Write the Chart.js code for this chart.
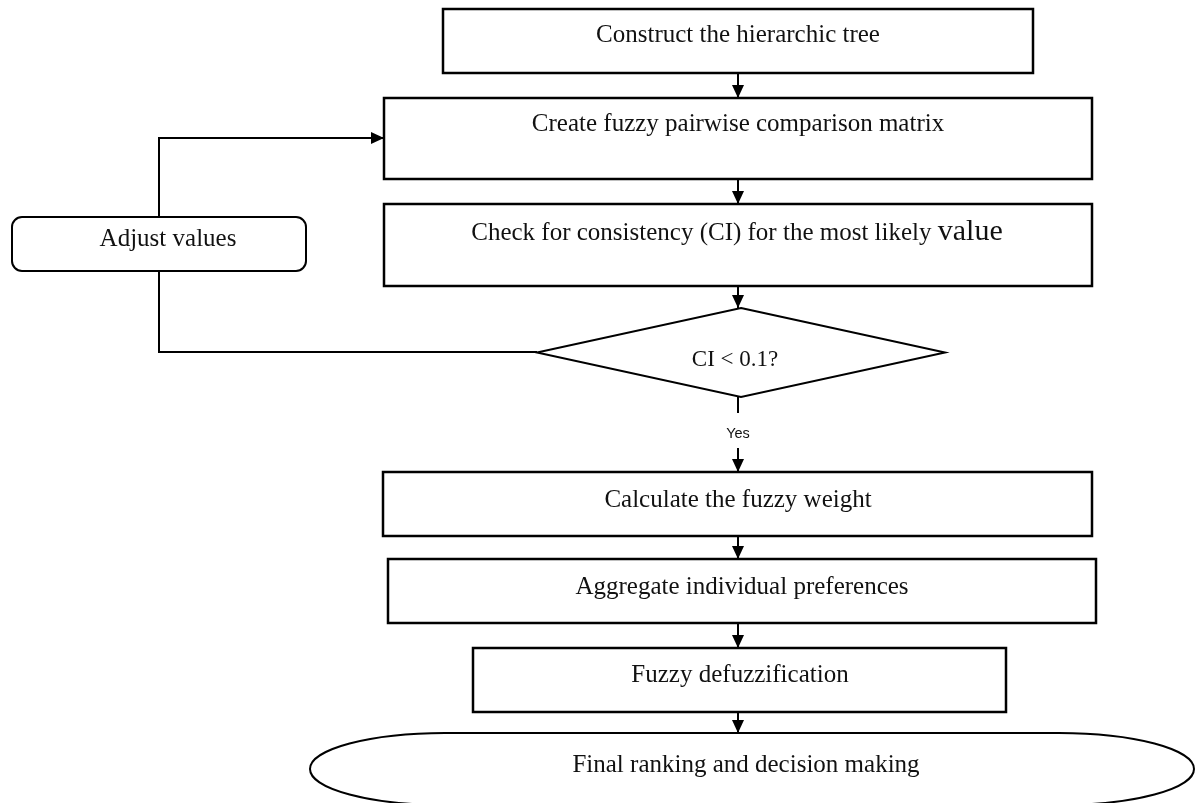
<!DOCTYPE html>
<html>
<head>
<meta charset="utf-8">
<script src="https://cdn.jsdelivr.net/npm/chart.js"></script>
<style>
  html, body { margin: 0; padding: 0; background: #ffffff; }
  canvas { display: block; }
</style>
</head>
<body>
<canvas id="chartAlur" width="1195" height="803"></canvas>
<script>
// === DATA DIAGRAM ===
// Steps of the flowchart (coordinates are in the chart's own data units)
const stepLabels = [
  "Construct the hierarchic tree",
  "Create fuzzy pairwise comparison matrix",
  "Check for consistency (CI) for the most likely value",
  "CI < 0.1?",
  "Calculate the fuzzy weight",
  "Aggregate individual preferences",
  "Fuzzy defuzzification",
  "Final ranking and decision making",
  "Adjust values"
];
const stepShape = ["box", "box", "box", "diamond", "box", "box", "box", "terminal", "round"];
const stepLeft = [443, 384, 384, 537, 383, 388, 473, 310, 12];
const stepRight = [1033, 1092, 1092, 945, 1092, 1096, 1006, 1194, 306];
const stepTop = [9, 98, 204, 308, 472, 559, 648, 733, 217];
const stepBottom = [73, 179, 286, 397, 536, 623, 712, 805, 271];
const labelX = [738, 738, 737, 735, 738, 742, 740, 746, 168];
const labelY = [35, 124, 232, 360, 500, 587, 675, 765, 239];

// Connectors between steps
const linkX = [[738, 738], [738, 738], [738, 738], [738, 738], [738, 738], [738, 738], [738, 738], [738, 738], [537, 159, 159, 384]];
const linkY = [[73, 98], [179, 204], [286, 308], [397, 413], [448, 472], [536, 559], [623, 648], [712, 733], [352, 352, 138, 138]];
const linkArrow = [true, true, true, false, true, true, true, true, true];

// Label on the decision branch
const branchLabels = ["Yes"];
const branchX = [738];
const branchY = [434];

// === SETUP CHART ===
const serif = "'Liberation Serif', 'DejaVu Serif', serif";
const bigWord = "value";

function drawArrow(ctx, x0, y0, x1, y1) {
  const ang = Math.atan2(y1 - y0, x1 - x0);
  const len = 13, half = 6;
  ctx.beginPath();
  ctx.moveTo(x1, y1);
  ctx.lineTo(x1 - len * Math.cos(ang) + half * Math.sin(ang), y1 - len * Math.sin(ang) - half * Math.cos(ang));
  ctx.lineTo(x1 - len * Math.cos(ang) - half * Math.sin(ang), y1 - len * Math.sin(ang) + half * Math.cos(ang));
  ctx.closePath();
  ctx.fill();
}

const flowPlugin = {
  id: "flowShapes",
  afterDatasetsDraw(chart) {
    const { ctx, scales: { x, y } } = chart;
    ctx.save();
    ctx.fillStyle = "#000";

    // arrow heads at the end of connectors
    linkX.forEach((xs, i) => {
      if (!linkArrow[i]) return;
      const n = xs.length;
      drawArrow(ctx,
        x.getPixelForValue(xs[n - 2]), y.getPixelForValue(linkY[i][n - 2]),
        x.getPixelForValue(xs[n - 1]), y.getPixelForValue(linkY[i][n - 1]));
    });

    // shapes
    stepLabels.forEach((label, i) => {
      const l = x.getPixelForValue(stepLeft[i]);
      const r = x.getPixelForValue(stepRight[i]);
      const t = y.getPixelForValue(stepTop[i]);
      const b = y.getPixelForValue(stepBottom[i]);
      ctx.beginPath();
      if (stepShape[i] === "box") {
        ctx.rect(l, t, r - l, b - t);
        ctx.lineWidth = 2.5;
      } else if (stepShape[i] === "round") {
        ctx.roundRect(l, t, r - l, b - t, 10);
        ctx.lineWidth = 2;
      } else if (stepShape[i] === "diamond") {
        const cx = (l + r) / 2, cy = (t + b) / 2;
        ctx.moveTo(cx, t);
        ctx.lineTo(r, cy);
        ctx.lineTo(cx, b);
        ctx.lineTo(l, cy);
        ctx.closePath();
        ctx.lineWidth = 2;
      } else {
        const rx = 135, ry = (b - t) / 2, cy = (t + b) / 2;
        ctx.moveTo(l + rx, t);
        ctx.lineTo(r - rx, t);
        ctx.ellipse(r - rx, cy, rx, ry, 0, -Math.PI / 2, Math.PI / 2);
        ctx.lineTo(l + rx, b);
        ctx.ellipse(l + rx, cy, rx, ry, 0, Math.PI / 2, Math.PI * 1.5);
        ctx.closePath();
        ctx.lineWidth = 2;
      }
      ctx.fillStyle = "#fff";
      ctx.fill();
      ctx.strokeStyle = "#000";
      ctx.stroke();
    });

    // texts
    ctx.fillStyle = "#111";
    ctx.textBaseline = "middle";
    stepLabels.forEach((label, i) => {
      const px = x.getPixelForValue(labelX[i]);
      const py = y.getPixelForValue(labelY[i]);
      const size = stepShape[i] === "diamond" ? 23 : 25;
      if (label.endsWith(" " + bigWord)) {
        const head = label.slice(0, label.length - bigWord.length);
        ctx.font = size + "px " + serif;
        const w1 = ctx.measureText(head).width;
        ctx.font = "30px " + serif;
        const w2 = ctx.measureText(bigWord).width;
        const start = px - (w1 + w2) / 2;
        ctx.textAlign = "left";
        ctx.textBaseline = "alphabetic";
        ctx.font = size + "px " + serif;
        ctx.fillText(head, start, py + 8);
        ctx.font = "30px " + serif;
        ctx.fillText(bigWord, start + w1, py + 8);
        ctx.textBaseline = "middle";
      } else {
        ctx.textAlign = "center";
        ctx.font = size + "px " + serif;
        ctx.fillText(label, px, py);
      }
    });

    ctx.font = "14.5px 'Liberation Sans', Arial, sans-serif";
    ctx.textAlign = "center";
    branchLabels.forEach((label, i) => {
      ctx.fillText(label, x.getPixelForValue(branchX[i]), y.getPixelForValue(branchY[i]));
    });
    ctx.restore();
  }
};

const linkDatasets = linkX.map((xs, i) => ({
  label: "link" + i,
  data: xs.map((v, k) => ({ x: v, y: linkY[i][k] })),
  showLine: true,
  borderColor: "#000",
  borderWidth: 2,
  pointRadius: 0,
  fill: false
}));

const ctx = document.getElementById("chartAlur").getContext("2d");
const chartAlur = new Chart(ctx, {
  type: "scatter",
  data: { datasets: linkDatasets },
  options: {
    responsive: false,
    animation: false,
    devicePixelRatio: 1,
    layout: { padding: 0 },
    plugins: { legend: { display: false }, tooltip: { enabled: false } },
    scales: {
      x: { type: "linear", min: 0, max: 1195, display: false },
      y: { type: "linear", min: 0, max: 803, reverse: true, display: false }
    }
  },
  plugins: [flowPlugin]
});
</script>
</body>
</html>
